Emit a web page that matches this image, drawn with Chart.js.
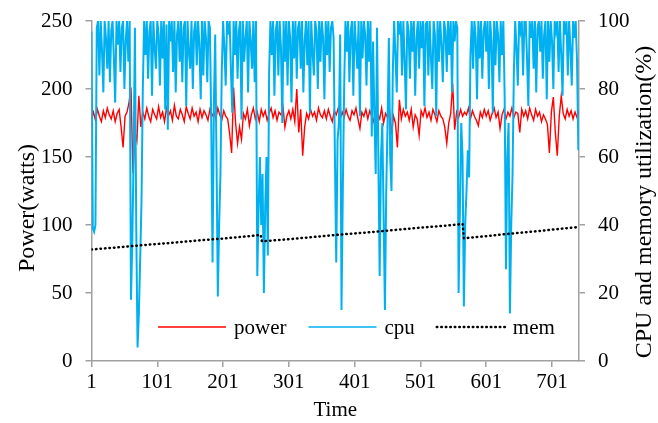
<!DOCTYPE html>
<html lang="en">
<head>
  <meta charset="UTF-8" />
  <title>Power, CPU and memory over time</title>
  <script src="https://cdn.jsdelivr.net/npm/chart.js"></script>
  <style>
    body { margin: 0; background: #fff; }
    #chart { display: block; }
  </style>
</head>
<body>
  <canvas id="chart" width="658" height="423"></canvas>

  <script>
    const xTicks = [1, 101, 201, 301, 401, 501, 601, 701];

    // power sampled every 3 time steps from t = 1
    const powerStep = 3;
    const powerW = [
      178, 183, 177, 185, 180, 176, 184, 179, 186, 181,
      178, 184, 176, 182, 185, 172, 157, 180, 183, 190,
      201, 138, 168, 162, 195, 172, 183, 178, 186, 180,
      176, 185, 181, 178, 187, 179, 183, 176, 186, 180,
      184, 177, 188, 180, 178, 185, 181, 176, 187, 182,
      178, 186, 180, 183, 176, 185, 179, 184, 181, 177,
      185, 180, 183, 178, 186, 181, 177, 184, 180, 178,
      167, 153, 201, 175, 160, 172, 163, 182, 178, 185,
      173, 181, 186, 178, 183, 176, 185, 180, 184, 177,
      182, 186, 179, 184, 177, 183, 181, 187, 172, 180,
      184, 178, 185, 176, 200, 168, 185, 151, 172, 182,
      178, 185, 180, 183, 177, 186, 181, 179, 184, 178,
      185, 180, 176, 184, 181, 186, 178, 183, 179, 185,
      180, 177, 184, 181, 186, 178, 171, 183, 180, 185,
      178, 184, 180, 176, 185, 181, 178, 186, 175, 182,
      179, 184, 166, 180, 175, 157, 192, 178, 185, 180,
      183, 177, 185, 172, 181, 178, 166, 184, 180, 186,
      179, 183, 177, 185, 181, 176, 184, 180, 178, 172,
      160, 175, 182, 204, 170, 183, 179, 185, 180, 183,
      181, 186, 178, 184, 180, 177, 173, 183, 179, 185,
      180, 184, 177, 182, 186, 179, 183, 171, 181, 185,
      178, 183, 180, 186, 179, 183, 182, 168, 185, 180,
      184, 178, 186, 181, 177, 185, 180, 183, 176, 181,
      178, 174, 153, 183, 194, 168, 151, 180, 195, 182,
      178, 185, 180, 184, 178, 183, 179, 184
    ];

    // cpu sampled every 2 time steps from t = 1
    const cpuStep = 2;
    const cpuPct = [
      97, 39, 38, 40, 98, 100, 84, 100, 91, 79,
      100, 95, 86, 100, 82, 97, 100, 89, 76, 100,
      93, 100, 85, 98, 100, 80, 94, 100, 88, 100,
      18, 35, 60, 98, 40, 4, 14, 30, 47, 80,
      100, 90, 100, 83, 97, 100, 78, 100, 92, 86,
      100, 96, 81, 100, 89, 100, 74, 99, 68, 100,
      94, 100, 85, 100, 79, 96, 100, 88, 100, 82,
      98, 100, 75, 100, 91, 86, 100, 80, 97, 100,
      87, 100, 93, 77, 100, 84, 100, 95, 82, 100,
      98, 70, 29, 75, 96, 60, 19, 40, 55, 85,
      100, 92, 81, 100, 96, 100, 85, 73, 100, 90,
      100, 83, 97, 100, 71, 100, 88, 95, 100, 79,
      100, 94, 86, 100, 82, 100, 25, 45, 60, 40,
      55, 20, 45, 60, 31, 85, 100, 90, 100, 78,
      97, 100, 84, 100, 92, 70, 100, 88, 100, 81,
      100, 95, 76, 100, 89, 100, 83, 98, 100, 86,
      100, 79, 94, 100, 87, 100, 73, 100, 91, 84,
      100, 97, 80, 100, 88, 100, 95, 77, 100, 90,
      100, 85, 98, 100, 95, 60, 29, 65, 70, 96,
      15, 50, 80, 100, 91, 100, 82, 97, 100, 78,
      100, 93, 86, 100, 72, 100, 89, 100, 96, 81,
      100, 88, 100, 66, 94, 72, 55, 98, 60, 25,
      60, 70, 43, 15, 50, 70, 95, 60, 50, 85,
      100, 90, 79, 100, 96, 100, 84, 100, 88, 74,
      100, 97, 83, 100, 91, 100, 78, 95, 100, 86,
      100, 92, 100, 75, 99, 100, 84, 100, 89, 80,
      100, 96, 72, 100, 88, 100, 93, 82, 100, 97,
      85, 100, 90, 100, 79, 100, 94, 100, 98, 20,
      45, 70, 60, 16, 40, 50, 62, 54, 90, 100,
      86, 100, 95, 77, 100, 89, 100, 83, 97, 100,
      91, 100, 80, 100, 94, 73, 100, 87, 100, 96,
      82, 100, 90, 100, 78, 27, 60, 70, 14, 40,
      55, 85, 100, 92, 81, 100, 97, 100, 84, 100,
      100, 89, 75, 100, 95, 100, 86, 100, 79, 98,
      100, 91, 100, 83, 96, 100, 77, 100, 88, 100,
      94, 80, 100, 97, 100, 85, 100, 90, 78, 100,
      96, 100, 84, 100, 92, 81, 100, 95, 100, 88,
      62
    ];

    // memory is a slow ramp with two resets
    const memT = [1, 40, 80, 120, 160, 200, 240, 258, 260, 300, 340, 380, 420, 460, 500, 540, 565, 567, 600, 640, 680, 720, 742];
    const memPct = [32.8, 33.4, 34.1, 34.7, 35.4, 36.0, 36.7, 37.1, 35.2, 35.8, 36.5, 37.2, 37.8, 38.5, 39.2, 39.8, 40.3, 36.1, 36.7, 37.5, 38.2, 39.0, 39.4];

    const FONT = "'Liberation Serif', 'Times New Roman', serif";
    const AXIS = '#a0a0a0';
    const RED = '#ff0000';
    const BLUE = '#00b0f0';
    const DOTS = [0.5, 4];

    const byStep = (arr, step) => arr.map((v, i) => ({ x: 1 + i * step, y: v }));

    const legendItems = [
      { label: 'power', color: RED, dash: [], width: 1.5 },
      { label: 'cpu', color: BLUE, dash: [], width: 1.5 },
      { label: 'mem', color: '#000', dash: DOTS, width: 2.5 }
    ];

    // legend inside plot + y titles (right one reads bottom-to-top)
    const extras = {
      id: 'extras',
      afterDraw(chart) {
        const ctx = chart.ctx;
        ctx.save();
        ctx.font = '21px ' + FONT;
        ctx.fillStyle = '#000';
        ctx.textBaseline = 'middle';

        let x = 158;
        const y = 327;
        legendItems.forEach(it => {
          ctx.beginPath();
          ctx.strokeStyle = it.color;
          ctx.lineWidth = it.width;
          ctx.lineCap = it.dash.length ? 'round' : 'butt';
          ctx.setLineDash(it.dash);
          ctx.moveTo(x, y);
          ctx.lineTo(x + 68, y);
          ctx.stroke();
          ctx.setLineDash([]);
          ctx.textAlign = 'left';
          ctx.fillText(it.label, x + 76, y + 1);
          x += 76 + ctx.measureText(it.label).width + 22;
        });
        ctx.restore();

        ctx.save();
        ctx.font = '24px ' + FONT;
        ctx.fillStyle = '#000';
        ctx.textAlign = 'center';
        ctx.textBaseline = 'middle';
        ctx.translate(28, 208);
        ctx.rotate(-Math.PI / 2);
        ctx.fillText('Power(watts)', 0, 0);
        ctx.restore();

        ctx.save();
        ctx.font = '24px ' + FONT;
        ctx.fillStyle = '#000';
        ctx.textAlign = 'center';
        ctx.textBaseline = 'middle';
        ctx.translate(645, 202);
        ctx.rotate(-Math.PI / 2);
        ctx.fillText('CPU and memory utilization(%)', 0, 0);
        ctx.restore();
      }
    };

    const tickFont = { family: FONT, size: 21 };
    const gridOpts = { drawOnChartArea: false, tickLength: 6, color: AXIS, lineWidth: 1.5 };
    const borderOpts = { color: AXIS, width: 1.5 };
    const fitY = w => s => { s.width = w; s.paddingTop = 0; s.paddingBottom = 0; };

    new Chart(document.getElementById('chart'), {
      type: 'line',
      data: {
        datasets: [
          {
            label: 'mem',
            data: memT.map((t, i) => ({ x: t, y: memPct[i] })),
            yAxisID: 'y2',
            borderColor: '#000',
            borderWidth: 2.5,
            borderDash: DOTS,
            borderCapStyle: 'round',
            pointRadius: 0,
            order: 0
          },
          {
            label: 'cpu',
            data: byStep(cpuPct, cpuStep),
            yAxisID: 'y2',
            borderColor: BLUE,
            borderWidth: 2,
            pointRadius: 0,
            order: 1
          },
          {
            label: 'power',
            data: byStep(powerW, powerStep),
            yAxisID: 'y',
            borderColor: RED,
            borderWidth: 1.4,
            pointRadius: 0,
            order: 2
          }
        ]
      },
      options: {
        responsive: false,
        animation: false,
        devicePixelRatio: 1,
        layout: { padding: { top: 21, left: 0, right: 0, bottom: 0 } },
        plugins: { legend: { display: false }, tooltip: { enabled: false } },
        scales: {
          x: {
            type: 'linear',
            min: 1,
            max: 742,
            afterBuildTicks: s => { s.ticks = xTicks.map(v => ({ value: v })); },
            afterFit: s => { s.height = 62; s.paddingLeft = 0; s.paddingRight = 0; },
            ticks: { font: tickFont, color: '#000', padding: 3, maxRotation: 0, autoSkip: false },
            grid: gridOpts,
            border: borderOpts,
            title: { display: true, text: 'Time', font: tickFont, color: '#000', padding: { top: 0, bottom: 0 } }
          },
          y: {
            position: 'left',
            min: 0,
            max: 250,
            afterFit: fitY(91.5),
            ticks: { stepSize: 50, font: tickFont, color: '#000', padding: 13 },
            grid: gridOpts,
            border: borderOpts
          },
          y2: {
            position: 'right',
            min: 0,
            max: 100,
            afterFit: fitY(79),
            ticks: { stepSize: 20, font: tickFont, color: '#000', padding: 13 },
            grid: gridOpts,
            border: borderOpts
          }
        }
      },
      plugins: [extras]
    });
  </script>
</body>
</html>
